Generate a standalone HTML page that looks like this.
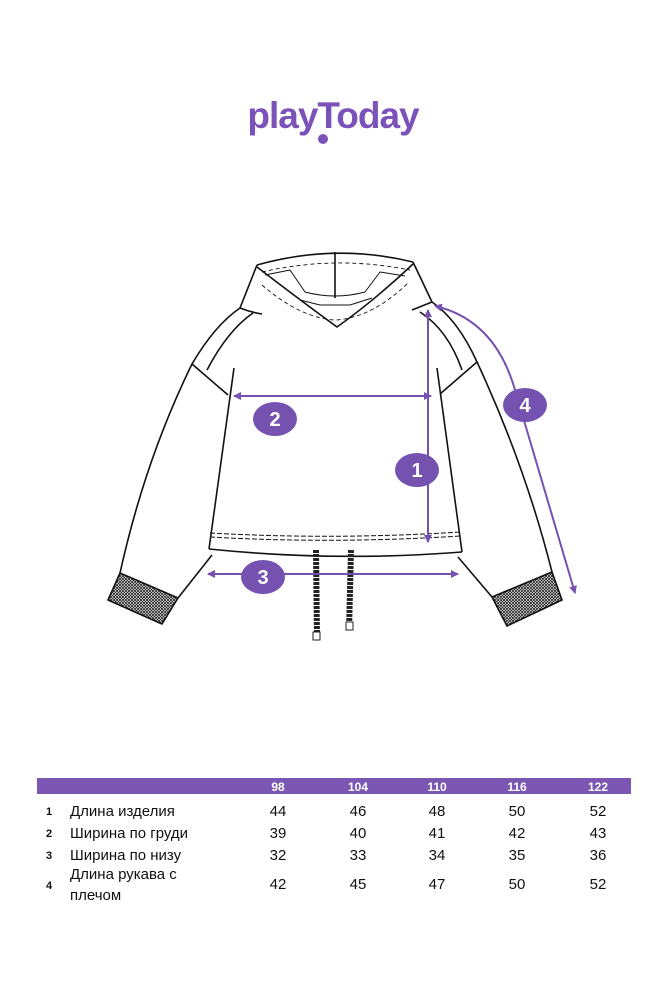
<!DOCTYPE html>
<html><head><meta charset="utf-8"><style>
body{margin:0;background:#fff;}
.wrap{position:relative;width:667px;height:1000px;overflow:hidden;font-family:"Liberation Sans",sans-serif;}
</style></head><body><div class="wrap">
<svg width="667" height="1000" viewBox="0 0 667 1000" xmlns="http://www.w3.org/2000/svg">
<defs>
<pattern id="knit" width="3" height="3" patternUnits="userSpaceOnUse"><rect width="3" height="3" fill="#fff"/><path d="M0 0L3 3M3 0L0 3" stroke="#222" stroke-width="0.8"/></pattern>
<marker id="ah" markerWidth="8" markerHeight="8" refX="7" refY="4" orient="auto" markerUnits="userSpaceOnUse"><path d="M0 0L8 4L0 8Z" fill="#7551b0"/></marker>
<marker id="at" markerWidth="8" markerHeight="8" refX="1" refY="4" orient="auto" markerUnits="userSpaceOnUse"><path d="M8 0L0 4L8 8Z" fill="#7551b0"/></marker>
</defs>
<text x="333" y="128" text-anchor="middle" font-family="Liberation Sans, sans-serif" font-weight="bold" font-size="37" fill="#7b52b9" letter-spacing="-1">playToday</text>
<circle cx="323" cy="139" r="5" fill="#7b52b9"/>
<g fill="none" stroke="#111" stroke-width="1.6" stroke-linejoin="round">
<path d="M257 265 Q335 243 413 262"/>
<path d="M257 265 L240 308 Q250 312 262 314"/>
<path d="M413 262 L432 302 Q422 306 412 310"/>
<path d="M257 267 Q300 300 337 327 Q375 300 413 264"/>
<path d="M335 252 L335 298"/>
<path d="M265 275 L290 270 L305 292 Q335 300 365 292 L380 272 L405 276" stroke-width="1"/>
<path d="M300 300 L320 305 L350 305 L372 298" stroke-width="1"/>
<path d="M262 285 Q300 318 335 320 Q372 318 408 283" stroke-dasharray="4 3" stroke-width="0.9"/>
<path d="M262 272 Q335 255 410 270" stroke-dasharray="4 3" stroke-width="0.9"/>
<path d="M240 308 Q215 325 192 364 Q145 460 120 573"/>
<path d="M253 313 Q228 330 207 370"/>
<path d="M192 364 L228 395"/>
<path d="M234 368 L209 549"/>
<path d="M212 555 L178 598"/>
<path d="M120 573 L108 600 L162 624 L178 598 Z" fill="url(#knit)"/>
<path d="M432 302 Q458 320 477 362 Q525 465 552 572"/>
<path d="M420 312 Q448 330 462 370"/>
<path d="M477 362 L440 394"/>
<path d="M437 368 L462 552"/>
<path d="M458 557 L492 597"/>
<path d="M552 572 L562 600 L507 626 L492 597 Z" fill="url(#knit)"/>
<path d="M209 549 Q335 562 462 552"/>
<path d="M210 533 Q335 540 460 532" stroke-dasharray="5 2" stroke-width="1"/>
<path d="M210 537 Q335 544 460 536" stroke-dasharray="5 2" stroke-width="1"/>
</g>
<path d="M316 550 L317 638" stroke="#222" stroke-width="6" stroke-dasharray="3 1"/>
<path d="M351 550 L349 630" stroke="#222" stroke-width="6" stroke-dasharray="3 1"/>
<rect x="313" y="632" width="7" height="8" fill="#fff" stroke="#222"/>
<rect x="346" y="622" width="7" height="8" fill="#fff" stroke="#222"/>
<g stroke="#7551b0" stroke-width="2" fill="none">
<path d="M428 310 L428 542" marker-start="url(#at)" marker-end="url(#ah)"/>
<path d="M234 396 L431 396" marker-start="url(#at)" marker-end="url(#ah)"/>
<path d="M208 574 L458 574" marker-start="url(#at)" marker-end="url(#ah)"/>
<path d="M435 306 Q495 320 515 390 L575 593" marker-start="url(#at)" marker-end="url(#ah)"/>
</g>
<g fill="#7551b0">
<ellipse cx="417" cy="470" rx="22" ry="17"/>
<ellipse cx="275" cy="419" rx="22" ry="17"/>
<ellipse cx="263" cy="577" rx="22" ry="17"/>
<ellipse cx="525" cy="405" rx="22" ry="17"/>
</g>
<g fill="#fff" font-size="20" font-weight="bold" text-anchor="middle">
<text x="417" y="477">1</text><text x="275" y="426">2</text><text x="263" y="584">3</text><text x="525" y="412">4</text>
</g>
<rect x="37" y="778" width="594" height="16" fill="#7b57b3"/>
<g fill="#fff" font-size="12" font-weight="bold" text-anchor="middle">
<text x="278" y="791">98</text><text x="358" y="791">104</text><text x="437" y="791">110</text><text x="517" y="791">116</text><text x="598" y="791">122</text>
</g>
<g fill="#111" font-size="15">
<text x="46" y="815" font-size="11" font-weight="bold">1</text><text x="70" y="816">Длина изделия</text>
<text x="46" y="837" font-size="11" font-weight="bold">2</text><text x="70" y="838">Ширина по груди</text>
<text x="46" y="859" font-size="11" font-weight="bold">3</text><text x="70" y="860">Ширина по низу</text>
<text x="46" y="889" font-size="11" font-weight="bold">4</text><text x="70" y="879">Длина рукава с</text><text x="70" y="900">плечом</text>
</g>
<g fill="#111" font-size="15" text-anchor="middle">
<text x="278" y="816">44</text><text x="358" y="816">46</text><text x="437" y="816">48</text><text x="517" y="816">50</text><text x="598" y="816">52</text>
<text x="278" y="838">39</text><text x="358" y="838">40</text><text x="437" y="838">41</text><text x="517" y="838">42</text><text x="598" y="838">43</text>
<text x="278" y="860">32</text><text x="358" y="860">33</text><text x="437" y="860">34</text><text x="517" y="860">35</text><text x="598" y="860">36</text>
<text x="278" y="889">42</text><text x="358" y="889">45</text><text x="437" y="889">47</text><text x="517" y="889">50</text><text x="598" y="889">52</text>
</g>
</svg>
</div></body></html>
